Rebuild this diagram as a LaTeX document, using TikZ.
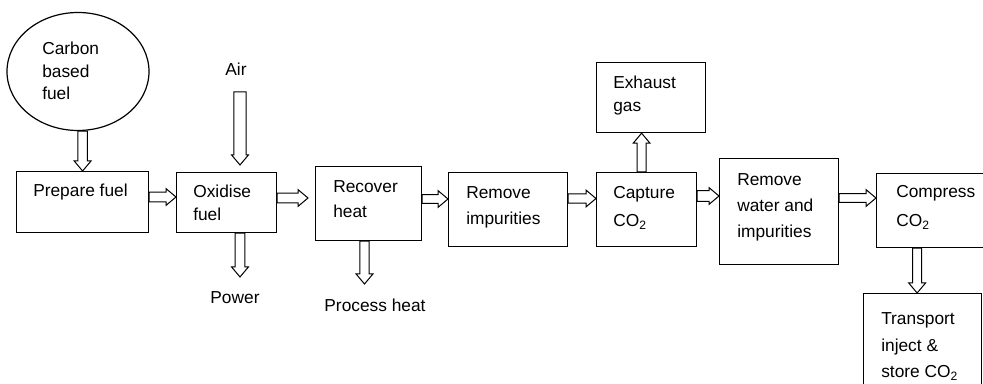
\documentclass[tikz,border=0pt]{standalone}
\usepackage{fontspec}
\setmainfont{Liberation Sans}
\usetikzlibrary{shapes.geometric,calc}
\tikzset{
  box/.style={draw, line width=0.9pt, rectangle, inner sep=0pt, anchor=north west},
  txt/.style={anchor=base west, inner sep=0pt, align=left, font=\fontsize{13}{#1}\selectfont},
  ctxt/.style={anchor=base, inner sep=0pt, font=\fontsize{13}{16}\selectfont},
  arr/.style={draw, line width=0.75pt, fill=white, line join=miter}
}
% horizontal block arrow: start point, end point (only x used)
\newcommand{\harr}[3][3.6pt]{\draw[arr] let \p1=#2, \p2=#3 in
  (\x1,\y1+#1) -- (\x2-7.5pt,\y1+#1) -- (\x2-7.5pt,\y1+6.3pt) -- (\x2,\y1)
  -- (\x2-7.5pt,\y1-6.3pt) -- (\x2-7.5pt,\y1-#1) -- (\x1,\y1-#1) -- cycle;}
% vertical block arrow: start point, end point (only y used)
\newcommand{\varr}[3][3.6pt]{\draw[arr] let \p1=#2, \p2=#3,
  \p3=($(\x1,\y2)!7.5pt!(\x1,\y1)$) in
  (\x1-#1,\y1) -- (\x1-#1,\y3) -- (\x1-6.3pt,\y3) -- (\x1,\y2)
  -- (\x1+6.3pt,\y3) -- (\x1+#1,\y3) -- (\x1+#1,\y1) -- cycle;}
\begin{document}
\begin{tikzpicture}[x=0.75pt,y=-0.75pt]
\useasboundingbox (0,0) rectangle (983,384);

% nodes (text nodes are placed by the baseline of their last line)
\node[draw, line width=0.9pt, ellipse, inner sep=0pt, minimum width=106.5pt, minimum height=88.5pt] (ell) at (78,71.5) {};
\node[txt=16.9pt] (tell) at (42,100) {Carbon\\based\\fuel};

\node[ctxt] (tair) at (236,76) {Air};

\node[box, minimum width=99pt, minimum height=45.75pt] (prep) at (16,171) {};
\node[txt=17pt] (tprep) at (33,197) {Prepare fuel};

\node[box, minimum width=75pt, minimum height=45pt] (ox) at (176,172) {};
\node[txt=17.25pt] (tox) at (193,221) {Oxidise\\fuel};

\node[ctxt] (tpow) at (235,304) {Power};

\node[box, minimum width=79.5pt, minimum height=55.5pt] (rec) at (315,166) {};
\node[txt=18.75pt] (trec) at (333,218) {Recover\\heat};

\node[ctxt] (tproc) at (375,312) {Process heat};

\node[box, minimum width=89.25pt, minimum height=55.5pt] (remi) at (448,172) {};
\node[txt=19.5pt] (tremi) at (466,225) {Remove\\impurities};

\node[box, minimum width=75pt, minimum height=55.5pt] (cap) at (596,172) {};
\node[txt=21pt] (tcap) at (613,227) {Capture\\CO\textsubscript{2}};

\node[box, minimum width=81.75pt, minimum height=52.5pt] (exh) at (596,62) {};
\node[txt=17.25pt] (texh) at (613,112) {Exhaust\\gas};

\node[box, minimum width=89.25pt, minimum height=79.5pt] (remw) at (719,158) {};
\node[txt=19.5pt] (tremw) at (737,238) {Remove\\water and\\impurities};

\node[box, minimum width=97.5pt, minimum height=55.5pt] (comp) at (876,173) {};
\node[txt=22pt] (tcomp) at (896,227) {Compress\\CO\textsubscript{2}};

\node[box, minimum width=88.5pt, minimum height=90pt] (trans) at (863,293) {};
\node[txt=19.9pt] (ttrans) at (881,378) {Transport\\inject \&\\store CO\textsubscript{2}};

% free arrow ends
\coordinate (airS) at (240,92);
\coordinate (airE) at (240,165);
\coordinate (powE) at (240,277);
\coordinate (procE) at (364.5,284);

% connectors
\varr{(prep.north |- ell.south)}{(prep.north)}
\varr[4.6pt]{(airS)}{(airE)}
\varr{(powE |- ox.south)}{(powE)}
\varr[3.4pt]{(procE |- rec.south)}{(procE)}
\varr[3.4pt]{([xshift=-3.75pt]cap.north)}{([xshift=-3.75pt]cap.north |- exh.south)}
\varr[3.4pt]{([xshift=-4.1pt]trans.north |- comp.south)}{([xshift=-4.1pt]trans.north)}

\harr{(prep.east |- 0,197)}{(ox.west)}
\harr{(ox.east |- 0,198)}{([xshift=-5.25pt]rec.west)}
\harr[3.2pt]{(rec.east |- 0,199)}{(remi.west)}
\harr[3.4pt]{(remi.east |- 0,198.5)}{(cap.west)}
\harr[4pt]{(cap.east |- 0,196)}{(remw.west)}
\harr[3.2pt]{(remw.east |- 0,198)}{(comp.west)}
\end{tikzpicture}
\end{document}
